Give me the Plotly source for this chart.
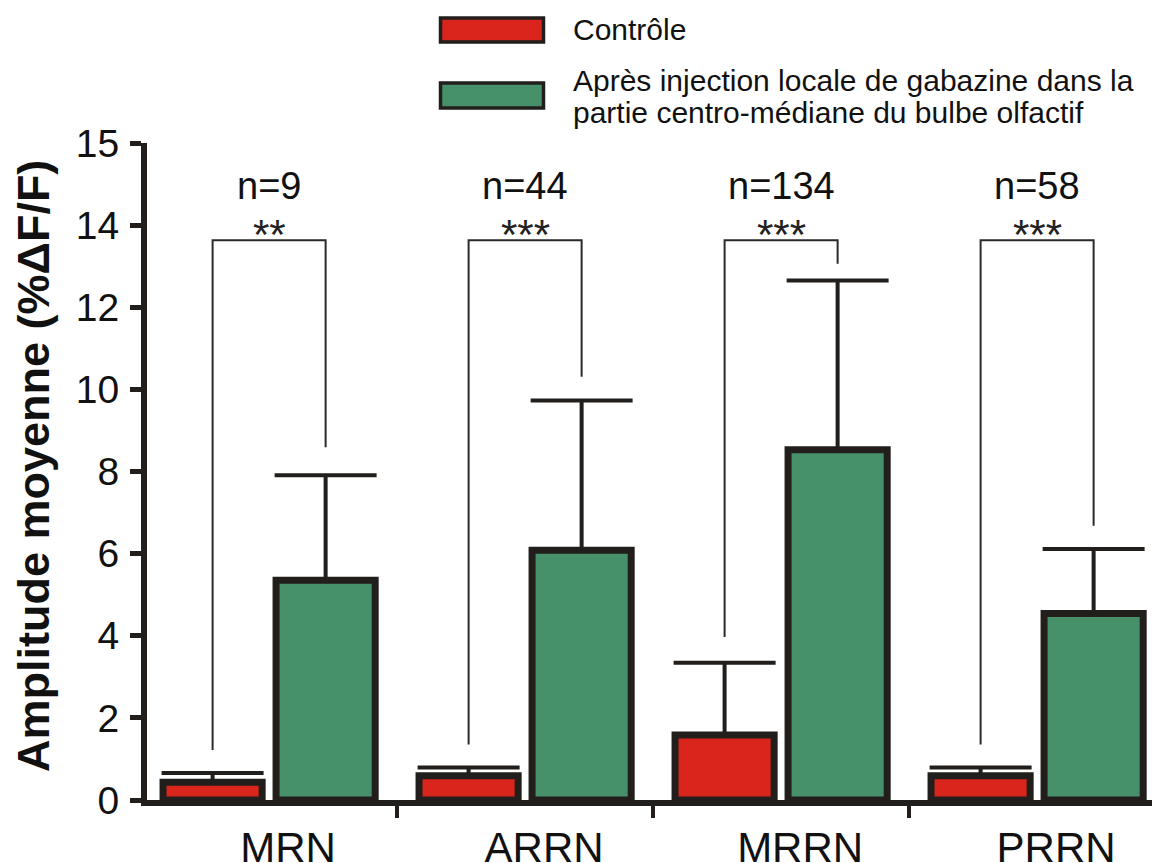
import plotly.graph_objects as go

# ---------------- data ----------------
categories = ["MRN", "ARRN", "MRRN", "PRRN"]
ctrl_mean = [0.43, 0.59, 1.58, 0.59]
ctrl_sem = [0.23, 0.20, 1.76, 0.20]
gaba_mean = [5.35, 6.08, 8.53, 4.54]
gaba_sem = [2.56, 3.65, 4.12, 1.57]
n_labels = ["n=9", "n=44", "n=134", "n=58"]
stars = ["**", "***", "***", "***"]
bracket_top = [13.63, 13.63, 13.63, 13.63]
ctrl_bracket_end = [1.22, 1.35, 3.97, 1.35]
gaba_bracket_end = [8.59, 10.31, 13.06, 6.68]
y_tickvals = [0, 2, 4, 6, 8, 10, 12, 14, 16]
y_ticktext = ["0", "2", "4", "6", "8", "10", "12", "14", "15"]
legend_ctrl = "Contrôle"
legend_gaba_l1 = "Après injection locale de gabazine dans la"
legend_gaba_l2 = "partie centro-médiane du bulbe olfactif"
y_title = "Amplitude moyenne (%ΔF/F)"

# ---------------- style ----------------
RED = "#DA251D"
GREEN = "#46906A"
DARK = "#221E1B"
FONT = "Liberation Sans, Arial, sans-serif"

OFF = 8  # page body margin in the browser
W, H = 1160 - OFF, 863 - OFF
ML, MR, MT, MB = 147 - OFF, 0, 143 - OFF, 63
PW, PH = W - ML - MR, H - MT - MB
BARGAP = 0.117
BARGROUPGAP = 0.123
x = list(range(len(categories)))
off = (1 - BARGAP) / 4.0

def px_x(p):
    return (p - OFF - ML) / PW

def px_y(p):
    return (H - MB - (p - OFF)) / PH

fig = go.Figure()

fig.add_trace(go.Bar(
    x=x, y=ctrl_mean, name=legend_ctrl,
    marker=dict(color=RED, line=dict(color=DARK, width=7)),
    error_y=dict(type="data", array=ctrl_sem, arrayminus=[0] * len(x),
                 symmetric=False, color=DARK, thickness=4, width=51),
    showlegend=False,
))
fig.add_trace(go.Bar(
    x=x, y=gaba_mean, name="gabazine",
    marker=dict(color=GREEN, line=dict(color=DARK, width=7)),
    error_y=dict(type="data", array=gaba_sem, arrayminus=[0] * len(x),
                 symmetric=False, color=DARK, thickness=4, width=51),
    showlegend=False,
))

# significance brackets
for i in x:
    fig.add_trace(go.Scatter(
        x=[i - off, i - off, i + off, i + off],
        y=[ctrl_bracket_end[i], bracket_top[i], bracket_top[i], gaba_bracket_end[i]],
        mode="lines", line=dict(color="#2a2a2a", width=2),
        showlegend=False, hoverinfo="skip",
    ))

annotations = []
for i in x:
    annotations.append(dict(x=i, y=14.95, xref="x", yref="y", text=n_labels[i],
                            showarrow=False, font=dict(family=FONT, size=38, color="#111"),
                            xanchor="center", yanchor="middle"))
    annotations.append(dict(x=i, y=bracket_top[i] + 0.15, xref="x", yref="y", text=stars[i],
                            showarrow=False, font=dict(family=FONT, size=42, color="#222"),
                            xanchor="center", yanchor="middle"))

# y-axis title
annotations.append(dict(x=px_x(33), y=px_y(466), xref="paper", yref="paper",
                        text="<b>" + y_title + "</b>", textangle=-90, showarrow=False,
                        font=dict(family=FONT, size=45, color="#111"),
                        xanchor="center", yanchor="middle"))

# legend text
annotations.append(dict(x=px_x(571), y=px_y(30), xref="paper", yref="paper",
                        text=legend_ctrl, showarrow=False,
                        font=dict(family=FONT, size=30, color="#111"),
                        xanchor="left", yanchor="middle"))
annotations.append(dict(x=px_x(571), y=px_y(81), xref="paper", yref="paper",
                        text=legend_gaba_l1, showarrow=False,
                        font=dict(family=FONT, size=30, color="#111"),
                        xanchor="left", yanchor="middle"))
annotations.append(dict(x=px_x(571), y=px_y(112), xref="paper", yref="paper",
                        text=legend_gaba_l2, showarrow=False,
                        font=dict(family=FONT, size=30, color="#111"),
                        xanchor="left", yanchor="middle"))

shapes = [
    dict(type="rect", xref="paper", yref="paper",
         x0=px_x(440.5), x1=px_x(543.5), y0=px_y(42), y1=px_y(18),
         fillcolor=RED, line=dict(color=DARK, width=3.5)),
    dict(type="rect", xref="paper", yref="paper",
         x0=px_x(440.5), x1=px_x(543.5), y0=px_y(108), y1=px_y(83),
         fillcolor=GREEN, line=dict(color=DARK, width=3.5)),
]

fig.update_layout(
    width=W, height=H,
    margin=dict(l=ML, r=MR, t=MT, b=MB, pad=0, autoexpand=False),
    paper_bgcolor="white", plot_bgcolor="white",
    barmode="group", bargap=BARGAP, bargroupgap=BARGROUPGAP,
    annotations=annotations, shapes=shapes,
    font=dict(family=FONT, color="#111"),
    showlegend=False,
)

fig.update_xaxes(
    automargin=False,
    range=[-0.477, -0.477 + PW / 256.0],
    tickmode="array", tickvals=x, ticktext=categories,
    ticks="", ticklabelshift=19, ticklabelstandoff=6,
    tickfont=dict(family=FONT, size=42, color="#111"),
    showline=True, linecolor=DARK, linewidth=6,
    showgrid=False, zeroline=False,
    minor=dict(tickmode="array", tickvals=[-0.5, 0.5, 1.5, 2.5, 3.5],
               ticks="outside", ticklen=12, tickwidth=4, tickcolor=DARK,
               showgrid=False),
)
fig.update_yaxes(
    automargin=False,
    range=[0, 16],
    tickmode="array", tickvals=y_tickvals, ticktext=y_ticktext,
    ticks="outside", ticklen=11, tickwidth=5, tickcolor=DARK,
    ticklabelstandoff=3,
    tickfont=dict(family=FONT, size=39, color="#111"),
    showline=True, linecolor=DARK, linewidth=6,
    showgrid=False, zeroline=False,
)

fig.write_html("out.html")
